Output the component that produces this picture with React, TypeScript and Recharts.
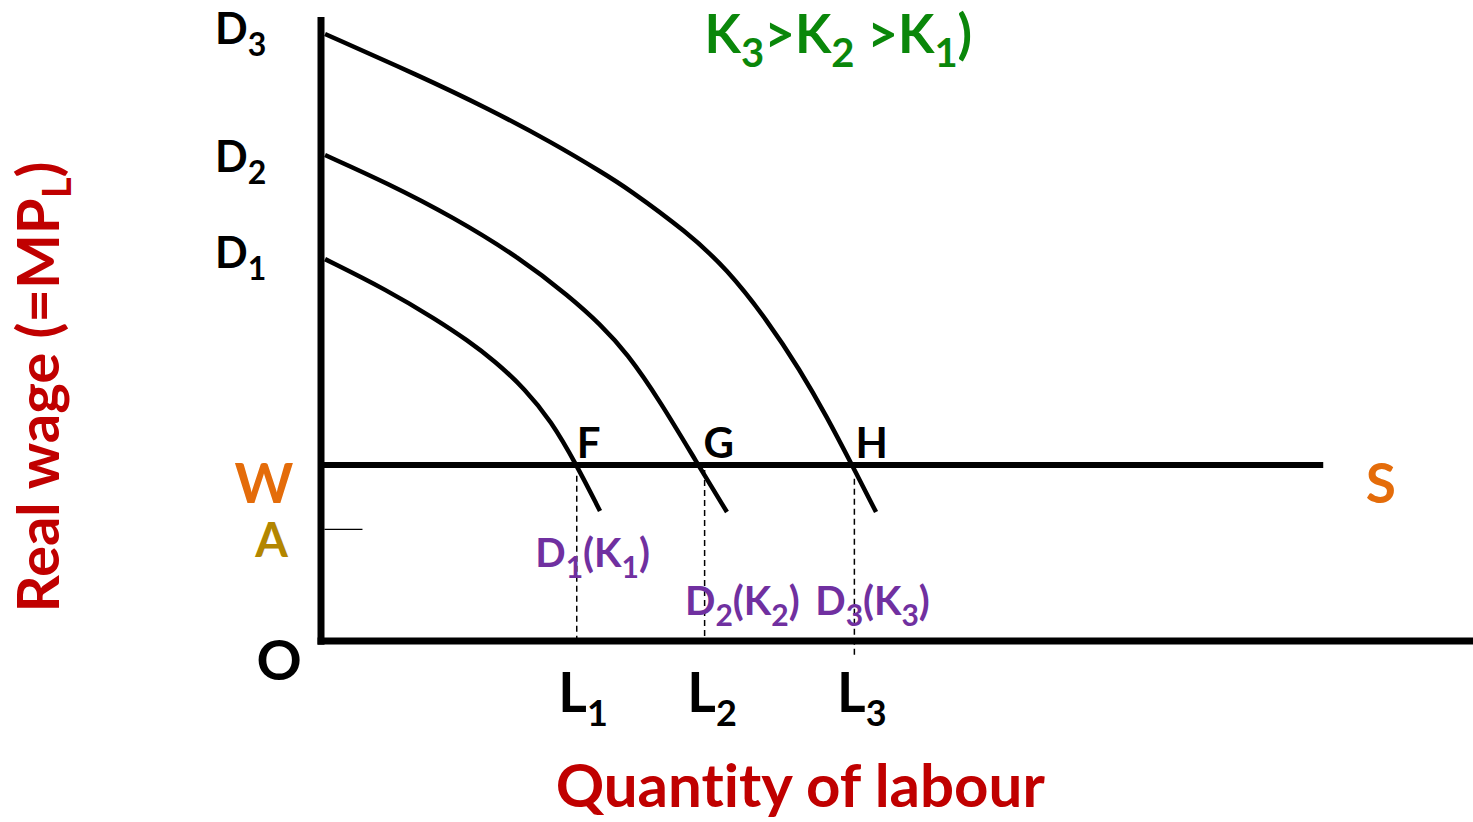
import React from 'react';
import { ComposedChart, Line, XAxis, YAxis, ReferenceLine, ReferenceDot } from 'recharts';

// Demand curves (x = quantity of labour, y = real wage)
const demandD1 = [
  { x: 0.35, y: 61.2 }, { x: 5.73, y: 56.25 }, { x: 10.07, y: 51.44 }, { x: 12.67, y: 48.24 },
  { x: 15.1, y: 44.87 }, { x: 17.71, y: 40.38 }, { x: 19.97, y: 35.26 }, { x: 22.14, y: 28.37 },
  { x: 24.22, y: 20.83 },
];
const demandD2 = [
  { x: 0.35, y: 77.88 }, { x: 5.73, y: 73.4 }, { x: 11.46, y: 67.95 }, { x: 17.27, y: 61.38 },
  { x: 21.61, y: 55.13 }, { x: 24.22, y: 50.8 }, { x: 26.56, y: 46.15 }, { x: 29.43, y: 38.46 },
  { x: 32.64, y: 28.53 }, { x: 35.24, y: 20.67 },
];
const demandD3 = [
  { x: 0.35, y: 97.28 }, { x: 8.59, y: 90.54 }, { x: 14.41, y: 85.42 }, { x: 20.14, y: 79.81 },
  { x: 24.48, y: 75.0 }, { x: 26.56, y: 72.6 }, { x: 31.77, y: 65.54 }, { x: 35.24, y: 59.62 },
  { x: 38.72, y: 51.44 }, { x: 41.58, y: 43.43 }, { x: 43.92, y: 35.9 }, { x: 46.09, y: 28.21 },
  { x: 48.18, y: 20.67 },
];
const supplyS = [{ x: 0, y: 28.2 }, { x: 87, y: 28.2 }];
const wageA = [{ x: 0.3, y: 17.9 }, { x: 3.6, y: 17.9 }];
const employment = [
  { name: 'L1', x: 22.2, top: 26.5, bottom: 0 },
  { name: 'L2', x: 33.3, top: 27.4, bottom: 0 },
  { name: 'L3', x: 46.3, top: 26.0, bottom: -2.6 },
];

type Seg = { t: string; sub?: boolean };
type Lbl = { id: string; x: number; y: number; segs: Seg[]; kind: string };

const labels: Lbl[] = [
  { id: 'd3', x: -9.2, y: 95.7, segs: [{ t: 'D' }, { t: '3', sub: true }], kind: 'dLeft' },
  { id: 'd2', x: -9.2, y: 75.2, segs: [{ t: 'D' }, { t: '2', sub: true }], kind: 'dLeft' },
  { id: 'd1', x: -9.2, y: 59.8, segs: [{ t: 'D' }, { t: '1', sub: true }], kind: 'dLeft' },
  { id: 'k', x: 33.3, y: 94.2, segs: [{ t: 'K' }, { t: '3', sub: true }, { t: '>K' }, { t: '2', sub: true }, { t: ' >K' }, { t: '1', sub: true }, { t: ')' }], kind: 'title' },
  { id: 'w', x: -7.5, y: 22.1, segs: [{ t: 'W' }], kind: 'w' },
  { id: 'a', x: -5.7, y: 13.5, segs: [{ t: 'A' }], kind: 'a' },
  { id: 'o', x: -5.6, y: -6.3, segs: [{ t: 'O' }], kind: 'o' },
  { id: 's', x: 90.7, y: 22.1, segs: [{ t: 'S' }], kind: 's' },
  { id: 'f', x: 22.2, y: 29.3, segs: [{ t: 'F' }], kind: 'pt' },
  { id: 'g', x: 33.2, y: 29.3, segs: [{ t: 'G' }], kind: 'pt' },
  { id: 'h', x: 46.4, y: 29.3, segs: [{ t: 'H' }], kind: 'pt' },
  { id: 'dk1', x: 18.6, y: 11.9, segs: [{ t: 'D' }, { t: '1', sub: true }, { t: '(K' }, { t: '1', sub: true }, { t: ')' }], kind: 'purple' },
  { id: 'dk2', x: 31.6, y: 4.2, segs: [{ t: 'D' }, { t: '2', sub: true }, { t: '(K' }, { t: '2', sub: true }, { t: ')' }], kind: 'purple' },
  { id: 'dk3', x: 42.9, y: 4.2, segs: [{ t: 'D' }, { t: '3', sub: true }, { t: '(K' }, { t: '3', sub: true }, { t: ')' }], kind: 'purple' },
  { id: 'l1', x: 20.6, y: -11.4, segs: [{ t: 'L' }, { t: '1', sub: true }], kind: 'l' },
  { id: 'l2', x: 31.8, y: -11.4, segs: [{ t: 'L' }, { t: '2', sub: true }], kind: 'l' },
  { id: 'l3', x: 44.8, y: -11.4, segs: [{ t: 'L' }, { t: '3', sub: true }], kind: 'l' },
  { id: 'xt', x: 41.6, y: -26.6, segs: [{ t: 'Quantity of labour' }], kind: 'xTitle' },
  { id: 'yt', x: -22.7, y: 40.7, segs: [{ t: 'Real wage (=MP' }, { t: 'L', sub: true }, { t: ')' }], kind: 'yTitle' },
];

const styles: Record<string, { size: number; sub: number; dy: number; color: string; anchor?: string; rotate?: boolean }> = {
  dLeft: { size: 43, sub: 32, dy: 12, color: '#000000' },
  title: { size: 53, sub: 40, dy: 14, color: '#0A870A' },
  w: { size: 56, sub: 40, dy: 12, color: '#E46C0A' },
  a: { size: 47, sub: 34, dy: 12, color: '#B38600' },
  o: { size: 56, sub: 40, dy: 12, color: '#000000' },
  s: { size: 55, sub: 40, dy: 12, color: '#E46C0A' },
  pt: { size: 42, sub: 30, dy: 12, color: '#000000' },
  purple: { size: 40, sub: 30, dy: 11, color: '#7030A0' },
  l: { size: 55, sub: 36, dy: 14, color: '#000000' },
  xTitle: { size: 60, sub: 40, dy: 12, color: '#C00000', anchor: 'middle' },
  yTitle: { size: 58, sub: 40, dy: 12, color: '#C00000', anchor: 'middle', rotate: true },
};

const FONT = 'Lato, "Open Sans", sans-serif';

const makeLabel = (lbl: Lbl) => (props: any) => {
  const st = styles[lbl.kind];
  const vb = (props && props.viewBox) || {};
  const x = vb.x ?? 0;
  const y = vb.y ?? 0;
  let shifted = false;
  const kids = lbl.segs.map((s, i) => {
    if (s.sub) {
      const dy = shifted ? 0 : st.dy;
      shifted = true;
      return (
        <tspan key={i} fontSize={st.sub} dy={dy}>{s.t}</tspan>
      );
    }
    const dy = shifted ? -st.dy : 0;
    shifted = false;
    return (
      <tspan key={i} fontSize={st.size} dy={dy}>{s.t}</tspan>
    );
  });
  return (
    <text
      x={x}
      y={y}
      fill={st.color}
      fontFamily={FONT}
      fontWeight={700}
      fontSize={st.size}
      textAnchor={st.anchor || 'start'}
      style={{ whiteSpace: 'pre', fontVariantLigatures: 'none', fontFeatureSettings: '"liga" 0, "clig" 0' }}
      transform={st.rotate ? `rotate(-90 ${x} ${y})` : undefined}
    >
      {kids}
    </text>
  );
};

export default function App() {
  return (
    <div style={{ position: 'absolute', left: 0, top: 0, width: 1473, height: 822, background: '#fff' }}>
      <ComposedChart width={1473} height={822} margin={{ top: 17, right: 0, bottom: 181, left: 321 }}>
        <XAxis
          type="number"
          dataKey="x"
          domain={[0, 100]}
          allowDataOverflow
          height={0}
          tick={false}
          tickLine={false}
          axisLine={false}
        />
        <YAxis
          type="number"
          dataKey="y"
          domain={[0, 100]}
          allowDataOverflow
          width={0}
          tick={false}
          tickLine={false}
          axisLine={false}
        />
        <ReferenceLine
          segment={[{ x: 0, y: 100 }, { x: 0, y: -0.6 }]}
          stroke="#000"
          strokeWidth={7}
          ifOverflow="visible"
        />
        <ReferenceLine
          segment={[{ x: -0.3, y: 0 }, { x: 100, y: 0 }]}
          stroke="#000"
          strokeWidth={7}
          ifOverflow="visible"
        />
        <Line data={supplyS} dataKey="y" type="linear" stroke="#000" strokeWidth={6} dot={false} isAnimationActive={false} />
        <Line data={wageA} dataKey="y" type="linear" stroke="#000" strokeWidth={1.3} dot={false} isAnimationActive={false} />
        <Line data={demandD1} dataKey="y" type="basis" stroke="#000" strokeWidth={4.5} dot={false} isAnimationActive={false} />
        <Line data={demandD2} dataKey="y" type="basis" stroke="#000" strokeWidth={4.5} dot={false} isAnimationActive={false} />
        <Line data={demandD3} dataKey="y" type="basis" stroke="#000" strokeWidth={4.5} dot={false} isAnimationActive={false} />
        {employment.map((e) => (
          <ReferenceLine
            key={e.name}
            segment={[{ x: e.x, y: e.top }, { x: e.x, y: e.bottom }]}
            stroke="#000"
            strokeWidth={1.5}
            strokeDasharray="6 4"
            ifOverflow="visible"
          />
        ))}
        {labels.map((l) => (
          <ReferenceDot
            key={l.id}
            x={l.x}
            y={l.y}
            r={0}
            fill="none"
            stroke="none"
            ifOverflow="visible"
            label={makeLabel(l)}
          />
        ))}
      </ComposedChart>
    </div>
  );
}
